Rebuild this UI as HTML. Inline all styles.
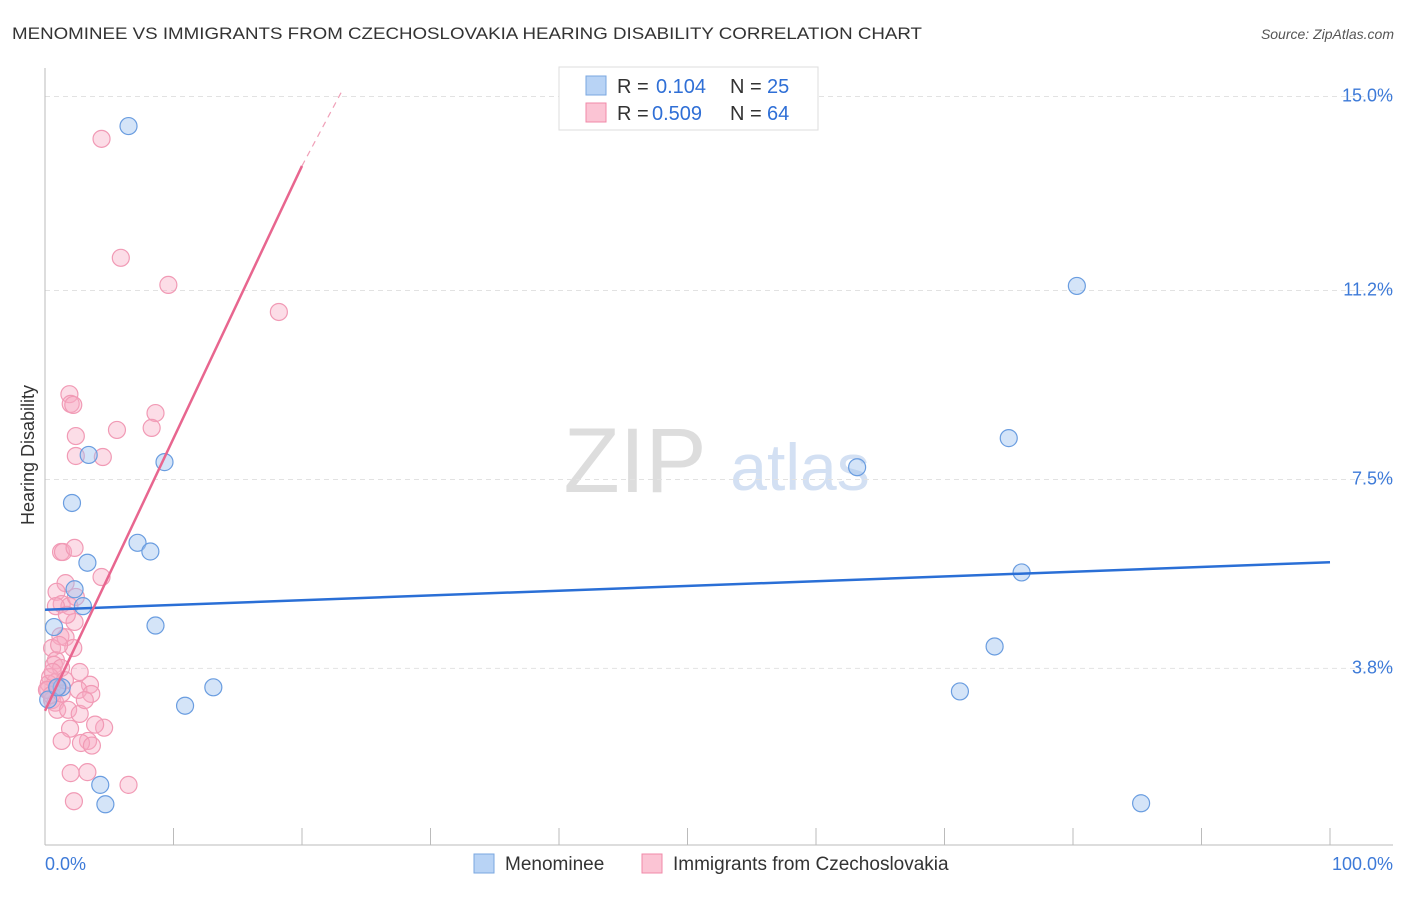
<!DOCTYPE html>
<html><head><meta charset="utf-8">
<style>
body{margin:0;background:#fff;font-family:"Liberation Sans",sans-serif;}
svg text{font-family:"Liberation Sans",sans-serif;}
</style></head>
<body>
<svg id="chart" width="1406" height="892" xmlns="http://www.w3.org/2000/svg">
<text x="12" y="39" font-size="17" fill="#333" textLength="910" lengthAdjust="spacingAndGlyphs">MENOMINEE VS IMMIGRANTS FROM CZECHOSLOVAKIA HEARING DISABILITY CORRELATION CHART</text>
<text x="1394" y="39" font-size="14" fill="#555" text-anchor="end" font-style="italic">Source: ZipAtlas.com</text>
<text x="635" y="492" font-size="92" fill="#ddd" font-family="Liberation Serif" text-anchor="middle">ZIP</text>
<text x="800" y="490" font-size="66" fill="#d3e0f3" text-anchor="middle">atlas</text>
<text x="34" y="455" font-size="18" fill="#333" text-anchor="middle" transform="rotate(-90 34 455)">Hearing Disability</text>
<g id="grid"></g><g id="axes"></g><g id="marks"></g>
<g>
<rect x="559" y="67" width="259" height="63" fill="#fff" stroke="#ddd"/>
<rect x="586" y="76" width="20" height="19" fill="#b8d3f5" stroke="#7aa7e0"/>
<rect x="586" y="103" width="20" height="19" fill="#fbc4d4" stroke="#f08aa8"/>
<text x="617" y="93" font-size="20" fill="#333">R =</text>
<text x="656" y="93" font-size="20" fill="#2f6fd6">0.104</text>
<text x="730" y="93" font-size="20" fill="#333">N =</text>
<text x="767" y="93" font-size="20" fill="#2f6fd6">25</text>
<text x="617" y="120" font-size="20" fill="#333">R =</text>
<text x="652" y="120" font-size="20" fill="#2f6fd6">0.509</text>
<text x="730" y="120" font-size="20" fill="#333">N =</text>
<text x="767" y="120" font-size="20" fill="#2f6fd6">64</text>
</g>
<g>
<rect x="474" y="854" width="20" height="19" fill="#b8d3f5" stroke="#7aa7e0"/>
<text x="505" y="870" font-size="19" fill="#333">Menominee</text>
<rect x="642" y="854" width="20" height="19" fill="#fbc4d4" stroke="#f08aa8"/>
<text x="673" y="870" font-size="19" fill="#333">Immigrants from Czechoslovakia</text>
</g>
</svg>
<script>
const yTicks=[3.8,7.5,11.2,15.0];
const yTickLabels=["3.8%","7.5%","11.2%","15.0%"];
const xTickLabels=["0.0%","100.0%"];
const blueX=[6.5,3.4,9.3,2.1,7.2,8.2,3.3,2.3,2.95,0.7,8.6,1.3,13.1,10.9,4.3,4.7,80.3,75.0,63.2,76.0,73.9,71.2,85.3,0.25,0.95];
const blueY=[14.42,7.98,7.84,7.04,6.26,6.09,5.87,5.35,5.02,4.61,4.64,3.43,3.43,3.07,1.52,1.14,11.29,8.31,7.74,5.68,4.23,3.35,1.16,3.19,3.43];
const pinkX=[4.4,5.9,9.6,18.2,1.9,2.0,2.2,8.6,2.4,5.6,8.3,2.4,4.5,1.25,1.4,2.3,4.4,1.6,0.9,1.3,1.9,0.85,2.4,2.3,1.2,1.6,2.2,0.55,0.85,0.7,1.25,2.7,0.4,0.8,0.3,0.25,3.5,2.6,3.6,0.55,0.8,0.95,1.8,2.7,4.6,1.95,1.3,3.35,2.8,3.65,2.0,3.3,6.5,2.25,0.15,0.5,1.0,1.3,0.6,1.55,1.7,1.1,3.1,3.9];
const pinkY=[14.17,11.84,11.31,10.78,9.17,8.98,8.96,8.8,8.35,8.47,8.51,7.96,7.94,6.08,6.08,6.16,5.59,5.47,5.3,5.06,5.02,5.02,5.2,4.71,4.43,4.41,4.2,4.2,3.96,3.87,3.81,3.73,3.63,3.53,3.5,3.38,3.48,3.38,3.3,3.18,3.13,2.99,2.99,2.91,2.64,2.62,2.38,2.38,2.34,2.29,1.75,1.77,1.52,1.2,3.38,3.28,3.43,3.31,3.73,3.57,4.85,4.26,3.18,2.7];
const blueTrend=[0,4.95,100,5.88];
const pinkTrend=[0,2.97,20,13.64,23.2,15.15];
const NS="http://www.w3.org/2000/svg";
const X=v=>45+v*12.85, Y=v=>862.5-v*51.07;
function mk(t,a,p){const e=document.createElementNS(NS,t);for(const k in a)e.setAttribute(k,a[k]);p.appendChild(e);return e;}
const grid=document.getElementById('grid'),axes=document.getElementById('axes'),marks=document.getElementById('marks');
yTicks.forEach((v,i)=>{
 const l=mk('line',{x1:45,x2:1393,y1:Y(v),y2:Y(v),stroke:'#e2e2e2','stroke-dasharray':'5,4'},grid);
 
 
 const t=mk('text',{x:1393,y:Y(v)+5,'font-size':18,fill:'#3d7ad8','text-anchor':'end'},axes);t.textContent=yTickLabels[i];
 
 
});
mk('line',{x1:45,x2:45,y1:68,y2:845,stroke:'#bbb'},axes);
mk('line',{x1:45,x2:1393,y1:845,y2:845,stroke:'#bbb'},axes);
for(let i=0;i<=10;i++){const tk=mk('line',{x1:X(i*10),x2:X(i*10),y1:828,y2:845,stroke:'#bbb'},axes);
 
 }
let t1=mk('text',{x:45,y:870,'font-size':18,fill:'#3d7ad8'},axes);t1.textContent=xTickLabels[0];


let t2=mk('text',{x:1393,y:870,'font-size':18,fill:'#3d7ad8','text-anchor':'end'},axes);t2.textContent=xTickLabels[1];


pinkX.forEach((x,i)=>{const c=mk('circle',{cx:X(x),cy:Y(pinkY[i]),r:8.5,fill:'rgba(248,170,195,0.4)',stroke:'#f19ab5','stroke-width':1.2},marks);
 
 });
blueX.forEach((x,i)=>{const c=mk('circle',{cx:X(x),cy:Y(blueY[i]),r:8.5,fill:'rgba(160,195,240,0.45)',stroke:'#6a9de0','stroke-width':1.2},marks);
 
 });
const bl=mk('line',{x1:X(blueTrend[0]),y1:Y(blueTrend[1]),x2:X(blueTrend[2]),y2:Y(blueTrend[3]),stroke:'#2a6fd6','stroke-width':2.5},marks);


const pl=mk('line',{x1:X(pinkTrend[0]),y1:Y(pinkTrend[1]),x2:X(pinkTrend[2]),y2:Y(pinkTrend[3]),stroke:'#e8668f','stroke-width':2.5},marks);


const pd=mk('line',{x1:X(pinkTrend[2]),y1:Y(pinkTrend[3]),x2:X(pinkTrend[4]),y2:Y(pinkTrend[5]),stroke:'#f0a0b8','stroke-width':1.2,'stroke-dasharray':'6,5'},marks);


</script>
</body></html>
